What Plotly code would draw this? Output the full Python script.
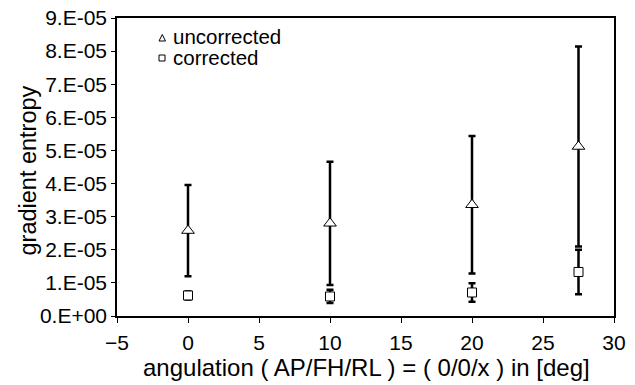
import plotly.graph_objects as go

angles = [0, 10, 20, 27.5]
uncorrected = [2.58e-5, 2.80e-5, 3.36e-5, 5.12e-5]
uncorrected_err = [1.38e-5, 1.86e-5, 2.08e-5, 3.02e-5]
corrected = [0.62e-5, 0.59e-5, 0.71e-5, 1.33e-5]
corrected_err = [0.12e-5, 0.2e-5, 0.28e-5, 0.67e-5]
series_names = ["uncorrected", "corrected"]

y_tickvals = [0, 1e-5, 2e-5, 3e-5, 4e-5, 5e-5, 6e-5, 7e-5, 8e-5, 9e-5]
y_ticktext = ["0.E+00", "1.E-05", "2.E-05", "3.E-05", "4.E-05", "5.E-05", "6.E-05", "7.E-05", "8.E-05", "9.E-05"]
x_tickvals = [-5, 0, 5, 10, 15, 20, 25, 30]
x_title = "angulation ( AP/FH/RL ) = ( 0/0/x ) in [deg]"
y_title = "gradient entropy"

FONT = "Liberation Sans, Arial, sans-serif"

# plot area in pixels (for legend and title placement)
L, R, T, B = 117, 614, 18, 316
W, H = 635, 385
def px(x):
    return (x - L) / (R - L)
def py(y):
    return (B - y) / (B - T)

fig = go.Figure()
fig.add_trace(go.Scatter(
    x=angles, y=uncorrected, mode="markers", name=series_names[0], showlegend=False,
    marker=dict(symbol="triangle-up", size=11, color="white", line=dict(color="black", width=1)),
    error_y=dict(type="data", array=uncorrected_err, color="black", thickness=2.5, width=3.5),
))
fig.add_trace(go.Scatter(
    x=angles, y=corrected, mode="markers", name=series_names[1], showlegend=False,
    marker=dict(symbol="square", size=9, color="white", line=dict(color="black", width=1)),
    error_y=dict(type="data", array=corrected_err, color="black", thickness=2.5, width=3.5),
))

# legend (symbols + text)
shapes = [
    dict(type="path", xref="paper", yref="paper",
         path=f"M {px(159)} {py(41)} L {px(165.5)} {py(41)} L {px(162.25)} {py(34.5)} Z",
         line=dict(color="black", width=1), fillcolor="white"),
    dict(type="rect", xref="paper", yref="paper",
         x0=px(159), x1=px(165), y0=py(61), y1=py(55),
         line=dict(color="black", width=1), fillcolor="white"),
]
annotations = [
    dict(text=series_names[0], xref="paper", yref="paper", x=px(171), y=py(37),
         xanchor="left", yanchor="middle", showarrow=False, font=dict(size=20.5)),
    dict(text=series_names[1], xref="paper", yref="paper", x=px(171), y=py(57.5),
         xanchor="left", yanchor="middle", showarrow=False, font=dict(size=20.5)),
    # axis titles
    dict(text=x_title, xref="paper", yref="paper", x=px(366.5), y=py(367),
         xanchor="center", yanchor="middle", showarrow=False, font=dict(size=24)),
    dict(text=y_title, xref="paper", yref="paper", x=px(27.5), y=py(171),
         xanchor="center", yanchor="middle", showarrow=False, textangle=-90,
         font=dict(size=23.5)),
]

fig.update_layout(
    width=W, height=H,
    margin=dict(l=L, r=W - R, t=T, b=H - B),
    paper_bgcolor="white", plot_bgcolor="white",
    font=dict(family=FONT, size=21, color="black"),
    showlegend=False,
    shapes=shapes, annotations=annotations,
    xaxis=dict(range=[-5, 30], tickvals=x_tickvals, showgrid=False, zeroline=False,
               showline=True, linecolor="black", linewidth=1.5, mirror=True,
               ticks="outside", ticklen=5, tickcolor="black", tickfont=dict(size=21),
               ticklabelstandoff=2, automargin=False),
    yaxis=dict(range=[0, 9e-5], tickvals=y_tickvals, ticktext=y_ticktext, showgrid=False, zeroline=False,
               showline=True, linecolor="black", linewidth=1.5, mirror=True,
               ticks="outside", ticklen=4, tickcolor="black", tickfont=dict(size=21),
               automargin=False),
)

fig.write_html("out.html")
